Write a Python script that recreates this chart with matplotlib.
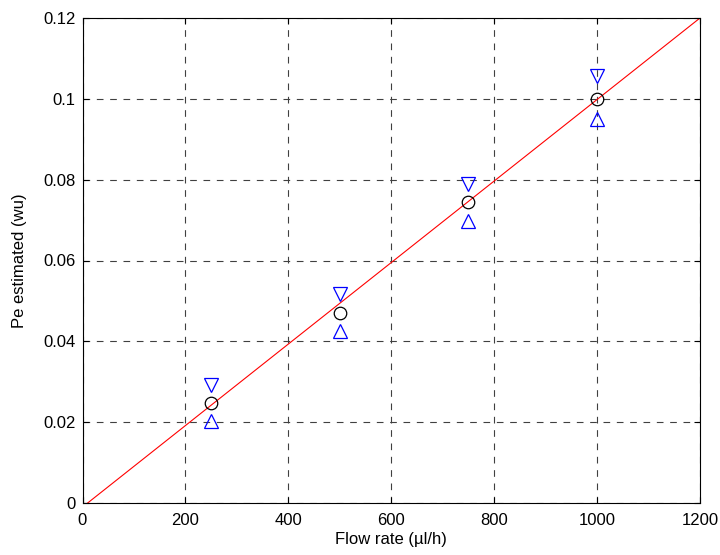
import matplotlib
matplotlib.use("Agg")
import matplotlib.pyplot as plt
import numpy as np

plt.rcParams['font.family'] = ['Liberation Sans', 'DejaVu Sans']

flow = [250, 500, 750, 1000]
pe_est = [0.0247, 0.0469, 0.0744, 0.0999]
pe_upper = [0.0292, 0.0516, 0.0790, 0.1056]
pe_lower = [0.0204, 0.0426, 0.0697, 0.0950]
fit_x = [10, 1200]
fit_y = [0.0, 0.12]

fig = plt.figure(figsize=(7.2, 5.55), dpi=100)
ax = fig.add_axes([82.5/720, 52/555, 617.5/720, 485/555])

ax.plot(fit_x, fit_y, color='red', lw=0.8, zorder=2)
ax.plot(flow, pe_est, 'o', mfc='none', mec='black', ms=9, mew=0.9, zorder=3)
ax.plot(flow, pe_upper, 'v', mfc='none', mec='blue', ms=10, mew=0.9, zorder=3)
ax.plot(flow, pe_lower, '^', mfc='none', mec='blue', ms=10, mew=0.9, zorder=3)

ax.set_xlim(0, 1200)
ax.set_ylim(0, 0.12)
ax.set_xticks([0, 200, 400, 600, 800, 1000, 1200])
ax.set_yticks([0, 0.02, 0.04, 0.06, 0.08, 0.1, 0.12])
ax.set_yticklabels(['0', '0.02', '0.04', '0.06', '0.08', '0.1', '0.12'])
ax.grid(True, color='#404040', linestyle=(0, (6, 6)), lw=0.8)
ax.tick_params(direction='in', labelsize=12, length=4, top=True, right=True)
ax.tick_params(axis='x', pad=7)
ax.tick_params(axis='y', pad=5)
for s in ax.spines.values():
    s.set_linewidth(0.8)
ax.set_xlabel('Flow rate (µl/h)', fontsize=12, labelpad=3)
ax.set_ylabel('Pe estimated (wu)', fontsize=12, labelpad=12)

fig.savefig('out.png', dpi=100)
